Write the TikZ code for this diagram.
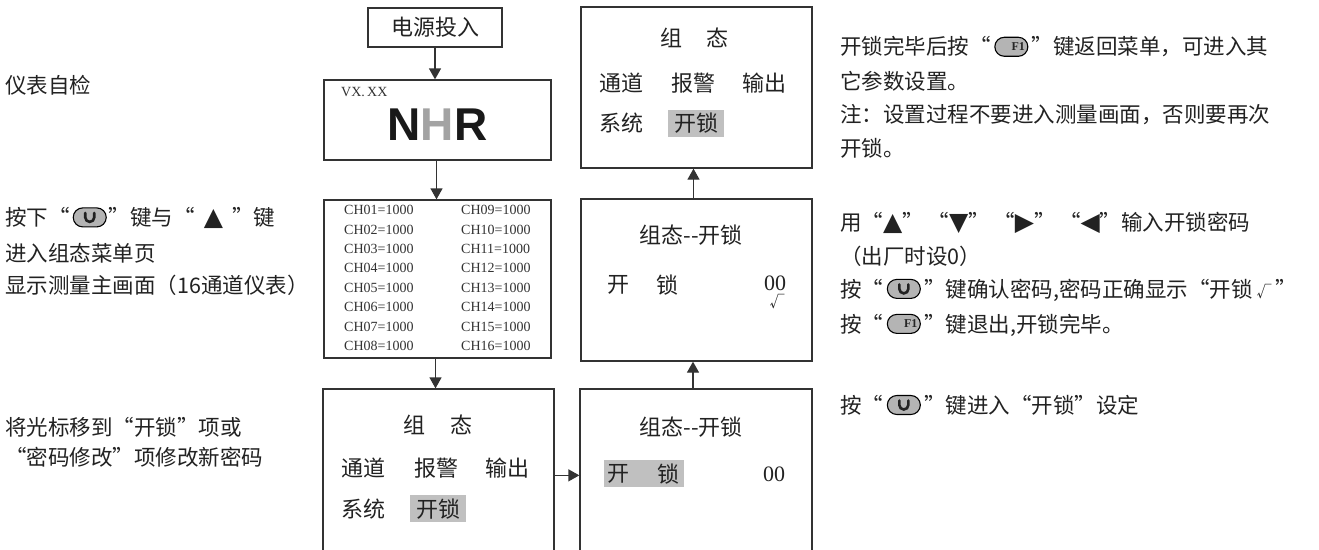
\documentclass[tikz,border=0pt]{standalone}
\usepackage{fontspec}
\setmainfont{Noto Sans CJK SC}
\newfontfamily\lsr{Liberation Serif}
\newfontfamily\lsa{Liberation Sans}
\newfontfamily\djv{DejaVu Sans}
\usetikzlibrary{arrows.meta}
\definecolor{txtc}{HTML}{222222}
\definecolor{linec}{HTML}{333333}
\definecolor{hlc}{HTML}{C0C0C0}
\definecolor{keyc}{HTML}{B4B4B4}
\definecolor{logogray}{HTML}{A3A3A3}
\newcommand\keyU{\tikz[baseline=-8.2pt]{\draw[line width=1.1pt,draw=black,fill=keyc,rounded corners=9.5pt] (0pt,-9.5pt) rectangle (33pt,9.5pt);\draw[line width=2.6pt,line cap=round] (12pt,4.5pt) -- (12pt,0pt) arc[start angle=180,end angle=360,radius=4.5pt] -- (21pt,4.5pt);}}
\newcommand\keyF{\tikz[baseline=-8.2pt]{\draw[line width=1.1pt,draw=black,fill=keyc,rounded corners=9.5pt] (0pt,-9.5pt) rectangle (33pt,9.5pt);\node[inner sep=0pt,text=black!85,font=\lsr\bfseries\fontsize{12}{12}\selectfont] at (16.5pt,0pt) {F1};}}
\newcommand\tri[1]{{\djv\fontsize{25}{25}\selectfont #1}}
\begin{document}
\begin{tikzpicture}[x=1pt,y=-1pt,
  box/.style={draw=linec,line width=1.3pt,inner sep=0pt,fill=white},
  arr/.style={draw=linec,line width=1.3pt,-{Triangle[length=11pt,width=12pt]}},
  t/.style={inner sep=0pt,anchor=west,text=txtc,font=\fontsize{21.5}{21.5}\selectfont},
  bt/.style={inner sep=0pt,text=txtc,font=\fontsize{22}{22}\selectfont},
  btw/.style={bt,anchor=west},
  ch/.style={inner sep=0pt,anchor=west,text=linec,font=\lsr\fontsize{14}{14}\selectfont},
  hl/.style={fill=hlc,draw=none}]
\useasboundingbox (0,0) rectangle (1319,549);
\clip (0,0) rectangle (1319,549);
\fill[white] (0,0) rectangle (1319,549);
% boxes
\node[box,minimum width=134pt,minimum height=39pt] (b1) at (435,27.5) {};
\node[box,minimum width=227pt,minimum height=80pt] (b2) at (437.5,120) {};
\node[box,minimum width=227pt,minimum height=158pt] (b3) at (437.5,279) {};
\node[box,minimum width=231pt,minimum height=251pt] (b4) at (438.5,514.5) {};
\node[box,minimum width=232pt,minimum height=251pt] (b5) at (696,514.5) {};
\node[box,minimum width=231pt,minimum height=162pt] (b6) at (696.5,280) {};
\node[box,minimum width=231pt,minimum height=161pt] (b7) at (696.5,87.5) {};
% arrows
\draw[arr] (b1.south) -- (b1.south |- b2.north);
\draw[arr] ([xshift=-1pt]b2.south) -- ([xshift=-1pt]b2.south |- b3.north);
\draw[arr] ([xshift=-2pt]b3.south) -- ([xshift=-2pt]b3.south |- b4.north);
\draw[arr] ([yshift=-87pt]b4.north east) -- ([yshift=-87pt]b5.north west);
\draw[arr] ([xshift=-3pt]b5.north) -- ([xshift=-3pt]b5.north |- b6.south);
\draw[arr] ([xshift=-3pt]b6.north) -- ([xshift=-3pt]b6.north |- b7.south);
% box 1
\node[bt] (t1) at (b1.center) {电源投入};
% box 2
\node[inner sep=0pt,anchor=west,text=linec,font=\lsr\fontsize{14}{14}\selectfont] (vx) at (341,92) {VX.\,XX};
\node[inner sep=0pt,anchor=base,font=\lsa\bfseries\fontsize{46}{46}\selectfont] (logo) at (437.5,140) {\textcolor{black!90}{N}\textcolor{logogray}{H}\textcolor{black!90}{R}};
% box 3
\foreach \i in {1,...,8} {
  \pgfmathtruncatemacro\j{\i+8}
  \node[ch] (chL\i) at (344,{210+19.43*(\i-1)}) {CH0\i=1000};
  \node[ch] (chR\i) at (461,{210+19.43*(\i-1)}) {CH\ifnum\j<10 0\fi\j=1000};
}
% box 4
\fill[hl] (410,495) rectangle (466,522);
\node[bt] (b4z) at (414,425) {组};
\node[bt] (b4t) at (461,425) {态};
\node[btw] (b4a) at (341,468) {通道};
\node[btw] (b4b) at (414,468) {报警};
\node[btw] (b4c) at (485,468) {输出};
\node[btw] (b4d) at (341,509) {系统};
\node[bt] (b4e) at (438,509) {开锁};
% box 5
\fill[hl] (604,460) rectangle (684,487);
\node[bt] (b5h) at (691,427) {组态-{}-开锁};
\node[bt] (b5k) at (618,474) {开};
\node[bt] (b5s) at (668,474) {锁};
\node[inner sep=0pt,text=txtc,font=\lsr\fontsize{22}{22}\selectfont] (b5n) at (774,474) {00};
% box 6
\node[bt] (b6h) at (691,235) {组态-{}-开锁};
\node[bt] (b6k) at (618,285) {开};
\node[bt] (b6s) at (667,285) {锁};
\node[inner sep=0pt,text=txtc,font=\lsr\fontsize{22}{22}\selectfont] (b6n) at (775,283) {00};
\node[inner sep=0pt,text=txtc,font=\fontsize{15}{15}\selectfont] (b6c) at (777,302) {√};
% box 7
\fill[hl] (668,110) rectangle (724,137);
\node[bt] (b7z) at (671,38) {组};
\node[bt] (b7t) at (717,38) {态};
\node[btw] (b7a) at (599,83) {通道};
\node[btw] (b7b) at (671,83) {报警};
\node[btw] (b7c) at (742,83) {输出};
\node[btw] (b7d) at (599,123) {系统};
\node[bt] (b7e) at (696,123) {开锁};
% left texts
\node[t] (l1) at (5,85) {仪表自检};
\node[t] (l2) at (5,218) {按下“\hspace{3pt}\keyU\hspace{2pt}”键与“\hspace{9pt}\tri{▲}\hspace{9pt}”键};
\node[t] (l3) at (5,253) {进入组态菜单页};
\node[t] (l4) at (5,285) {显示测量主画面（16通道仪表）};
\node[t] (l5) at (5,427) {将光标移到“开锁”项或};
\node[t] (l6) at (5,457) {“密码修改”项修改新密码};
% right texts
\node[t] (r1) at (840,47) {开锁完毕后按“\,\keyF\,”键返回菜单，可进入其};
\node[t] (r2) at (840,81) {它参数设置。};
\node[t] (r3) at (840,115) {注：设置过程不要进入测量画面，否则要再次};
\node[t] (r4) at (840,148) {开锁。};
\node[t] (r5) at (840,223) {用“\tri{▲}”\,“\tri{▼}”\,“\tri{▶}”\,“\tri{◀}”输入开锁密码};
\node[t] (r6) at (840,256) {（出厂时设0）};
\node[t] (r7) at (840,290) {按“\,\keyU\,”键确认密码,密码正确显示“开锁\,{\fontsize{15}{15}\selectfont √}\,”};
\node[t] (r8) at (840,325) {按“\,\keyF\,”键退出,开锁完毕。};
\node[t] (r9) at (840,405) {按“\,\keyU\,”键进入“开锁”设定};
\end{tikzpicture}
\end{document}
